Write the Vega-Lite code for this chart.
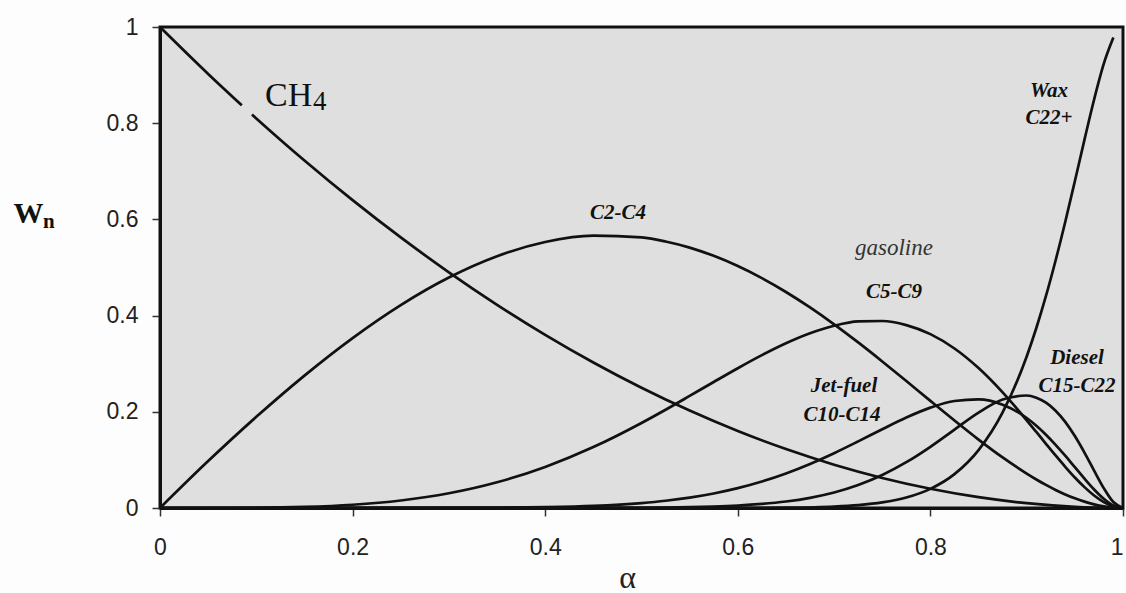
{
  "$schema": "https://vega.github.io/schema/vega-lite/v6.json",
  "width": 963,
  "height": 481,
  "autosize": "none",
  "padding": {"left": 160, "top": 27, "right": 3, "bottom": 85},
  "background": "#fdfdfd",
  "config": {
    "view": {"fill": "#dfdfdf", "stroke": "#111111", "strokeWidth": 3}
  },
  "datasets": {
    "curves": [
      {"series": "CH4", "part": 1, "alpha": 0, "w": 1},
      {"series": "CH4", "part": 1, "alpha": 0.05, "w": 0.9025},
      {"series": "CH4", "part": 1, "alpha": 0.085, "w": 0.8372},
      {"series": "CH4", "part": 2, "alpha": 0.0955, "w": 0.8181},
      {"series": "CH4", "part": 2, "alpha": 0.1, "w": 0.81},
      {"series": "CH4", "part": 2, "alpha": 0.15, "w": 0.7225},
      {"series": "CH4", "part": 2, "alpha": 0.2, "w": 0.64},
      {"series": "CH4", "part": 2, "alpha": 0.25, "w": 0.5625},
      {"series": "CH4", "part": 2, "alpha": 0.3, "w": 0.49},
      {"series": "CH4", "part": 2, "alpha": 0.35, "w": 0.4225},
      {"series": "CH4", "part": 2, "alpha": 0.4, "w": 0.36},
      {"series": "CH4", "part": 2, "alpha": 0.45, "w": 0.3025},
      {"series": "CH4", "part": 2, "alpha": 0.5, "w": 0.25},
      {"series": "CH4", "part": 2, "alpha": 0.55, "w": 0.2025},
      {"series": "CH4", "part": 2, "alpha": 0.6, "w": 0.16},
      {"series": "CH4", "part": 2, "alpha": 0.65, "w": 0.1225},
      {"series": "CH4", "part": 2, "alpha": 0.7, "w": 0.09},
      {"series": "CH4", "part": 2, "alpha": 0.75, "w": 0.0625},
      {"series": "CH4", "part": 2, "alpha": 0.8, "w": 0.04},
      {"series": "CH4", "part": 2, "alpha": 0.85, "w": 0.0225},
      {"series": "CH4", "part": 2, "alpha": 0.9, "w": 0.01},
      {"series": "CH4", "part": 2, "alpha": 0.95, "w": 0.0025},
      {"series": "CH4", "part": 2, "alpha": 1, "w": 0},

      {"series": "C2-C4", "part": 1, "alpha": 0, "w": 0},
      {"series": "C2-C4", "part": 1, "alpha": 0.05, "w": 0.0975},
      {"series": "C2-C4", "part": 1, "alpha": 0.1, "w": 0.1895},
      {"series": "C2-C4", "part": 1, "alpha": 0.15, "w": 0.2753},
      {"series": "C2-C4", "part": 1, "alpha": 0.2, "w": 0.3533},
      {"series": "C2-C4", "part": 1, "alpha": 0.25, "w": 0.4219},
      {"series": "C2-C4", "part": 1, "alpha": 0.3, "w": 0.4792},
      {"series": "C2-C4", "part": 1, "alpha": 0.35, "w": 0.5235},
      {"series": "C2-C4", "part": 1, "alpha": 0.4, "w": 0.553},
      {"series": "C2-C4", "part": 1, "alpha": 0.45, "w": 0.5663},
      {"series": "C2-C4", "part": 1, "alpha": 0.5, "w": 0.5625},
      {"series": "C2-C4", "part": 1, "alpha": 0.525, "w": 0.5541},
      {"series": "C2-C4", "part": 1, "alpha": 0.55, "w": 0.5413},
      {"series": "C2-C4", "part": 1, "alpha": 0.575, "w": 0.5242},
      {"series": "C2-C4", "part": 1, "alpha": 0.6, "w": 0.503},
      {"series": "C2-C4", "part": 1, "alpha": 0.625, "w": 0.4779},
      {"series": "C2-C4", "part": 1, "alpha": 0.65, "w": 0.4491},
      {"series": "C2-C4", "part": 1, "alpha": 0.675, "w": 0.4169},
      {"series": "C2-C4", "part": 1, "alpha": 0.7, "w": 0.3818},
      {"series": "C2-C4", "part": 1, "alpha": 0.725, "w": 0.3442},
      {"series": "C2-C4", "part": 1, "alpha": 0.75, "w": 0.3047},
      {"series": "C2-C4", "part": 1, "alpha": 0.775, "w": 0.264},
      {"series": "C2-C4", "part": 1, "alpha": 0.8, "w": 0.2227},
      {"series": "C2-C4", "part": 1, "alpha": 0.825, "w": 0.1819},
      {"series": "C2-C4", "part": 1, "alpha": 0.85, "w": 0.1423},
      {"series": "C2-C4", "part": 1, "alpha": 0.875, "w": 0.1051},
      {"series": "C2-C4", "part": 1, "alpha": 0.9, "w": 0.0715},
      {"series": "C2-C4", "part": 1, "alpha": 0.91, "w": 0.0593},
      {"series": "C2-C4", "part": 1, "alpha": 0.92, "w": 0.048},
      {"series": "C2-C4", "part": 1, "alpha": 0.93, "w": 0.0376},
      {"series": "C2-C4", "part": 1, "alpha": 0.94, "w": 0.0283},
      {"series": "C2-C4", "part": 1, "alpha": 0.95, "w": 0.0201},
      {"series": "C2-C4", "part": 1, "alpha": 0.96, "w": 0.0132},
      {"series": "C2-C4", "part": 1, "alpha": 0.97, "w": 0.0076},
      {"series": "C2-C4", "part": 1, "alpha": 0.98, "w": 0.0034},
      {"series": "C2-C4", "part": 1, "alpha": 0.99, "w": 0.0009},
      {"series": "C2-C4", "part": 1, "alpha": 1, "w": 0},

      {"series": "C5-C9", "part": 1, "alpha": 0, "w": 0},
      {"series": "C5-C9", "part": 1, "alpha": 0.1, "w": 0.0005},
      {"series": "C5-C9", "part": 1, "alpha": 0.15, "w": 0.0022},
      {"series": "C5-C9", "part": 1, "alpha": 0.2, "w": 0.0067},
      {"series": "C5-C9", "part": 1, "alpha": 0.25, "w": 0.0156},
      {"series": "C5-C9", "part": 1, "alpha": 0.3, "w": 0.0306},
      {"series": "C5-C9", "part": 1, "alpha": 0.35, "w": 0.0535},
      {"series": "C5-C9", "part": 1, "alpha": 0.4, "w": 0.0854},
      {"series": "C5-C9", "part": 1, "alpha": 0.45, "w": 0.1267},
      {"series": "C5-C9", "part": 1, "alpha": 0.5, "w": 0.1768},
      {"series": "C5-C9", "part": 1, "alpha": 0.525, "w": 0.2043},
      {"series": "C5-C9", "part": 1, "alpha": 0.55, "w": 0.233},
      {"series": "C5-C9", "part": 1, "alpha": 0.575, "w": 0.262},
      {"series": "C5-C9", "part": 1, "alpha": 0.6, "w": 0.2906},
      {"series": "C5-C9", "part": 1, "alpha": 0.625, "w": 0.3178},
      {"series": "C5-C9", "part": 1, "alpha": 0.65, "w": 0.3425},
      {"series": "C5-C9", "part": 1, "alpha": 0.675, "w": 0.3633},
      {"series": "C5-C9", "part": 1, "alpha": 0.7, "w": 0.3789},
      {"series": "C5-C9", "part": 1, "alpha": 0.725, "w": 0.3879},
      {"series": "C5-C9", "part": 1, "alpha": 0.75, "w": 0.3888},
      {"series": "C5-C9", "part": 1, "alpha": 0.775, "w": 0.3803},
      {"series": "C5-C9", "part": 1, "alpha": 0.8, "w": 0.3615},
      {"series": "C5-C9", "part": 1, "alpha": 0.825, "w": 0.3316},
      {"series": "C5-C9", "part": 1, "alpha": 0.85, "w": 0.2909},
      {"series": "C5-C9", "part": 1, "alpha": 0.875, "w": 0.2404},
      {"series": "C5-C9", "part": 1, "alpha": 0.9, "w": 0.1824},
      {"series": "C5-C9", "part": 1, "alpha": 0.91, "w": 0.1581},
      {"series": "C5-C9", "part": 1, "alpha": 0.92, "w": 0.1335},
      {"series": "C5-C9", "part": 1, "alpha": 0.93, "w": 0.1092},
      {"series": "C5-C9", "part": 1, "alpha": 0.94, "w": 0.0857},
      {"series": "C5-C9", "part": 1, "alpha": 0.95, "w": 0.0635},
      {"series": "C5-C9", "part": 1, "alpha": 0.96, "w": 0.0434},
      {"series": "C5-C9", "part": 1, "alpha": 0.97, "w": 0.026},
      {"series": "C5-C9", "part": 1, "alpha": 0.98, "w": 0.0123},
      {"series": "C5-C9", "part": 1, "alpha": 0.99, "w": 0.0033},
      {"series": "C5-C9", "part": 1, "alpha": 1, "w": 0},

      {"series": "C10-C14", "part": 1, "alpha": 0, "w": 0},
      {"series": "C10-C14", "part": 1, "alpha": 0.3, "w": 0.0001},
      {"series": "C10-C14", "part": 1, "alpha": 0.35, "w": 0.0005},
      {"series": "C10-C14", "part": 1, "alpha": 0.4, "w": 0.0017},
      {"series": "C10-C14", "part": 1, "alpha": 0.45, "w": 0.0044},
      {"series": "C10-C14", "part": 1, "alpha": 0.5, "w": 0.0103},
      {"series": "C10-C14", "part": 1, "alpha": 0.525, "w": 0.0151},
      {"series": "C10-C14", "part": 1, "alpha": 0.55, "w": 0.0216},
      {"series": "C10-C14", "part": 1, "alpha": 0.575, "w": 0.0302},
      {"series": "C10-C14", "part": 1, "alpha": 0.6, "w": 0.0412},
      {"series": "C10-C14", "part": 1, "alpha": 0.625, "w": 0.055},
      {"series": "C10-C14", "part": 1, "alpha": 0.65, "w": 0.0718},
      {"series": "C10-C14", "part": 1, "alpha": 0.675, "w": 0.0916},
      {"series": "C10-C14", "part": 1, "alpha": 0.7, "w": 0.114},
      {"series": "C10-C14", "part": 1, "alpha": 0.725, "w": 0.1385},
      {"series": "C10-C14", "part": 1, "alpha": 0.75, "w": 0.1638},
      {"series": "C10-C14", "part": 1, "alpha": 0.775, "w": 0.1881},
      {"series": "C10-C14", "part": 1, "alpha": 0.8, "w": 0.2087},
      {"series": "C10-C14", "part": 1, "alpha": 0.825, "w": 0.2225},
      {"series": "C10-C14", "part": 1, "alpha": 0.85, "w": 0.2257},
      {"series": "C10-C14", "part": 1, "alpha": 0.875, "w": 0.2148},
      {"series": "C10-C14", "part": 1, "alpha": 0.9, "w": 0.1871},
      {"series": "C10-C14", "part": 1, "alpha": 0.91, "w": 0.171},
      {"series": "C10-C14", "part": 1, "alpha": 0.92, "w": 0.1524},
      {"series": "C10-C14", "part": 1, "alpha": 0.93, "w": 0.1314},
      {"series": "C10-C14", "part": 1, "alpha": 0.94, "w": 0.1087},
      {"series": "C10-C14", "part": 1, "alpha": 0.95, "w": 0.0848},
      {"series": "C10-C14", "part": 1, "alpha": 0.96, "w": 0.061},
      {"series": "C10-C14", "part": 1, "alpha": 0.97, "w": 0.0385},
      {"series": "C10-C14", "part": 1, "alpha": 0.98, "w": 0.0192},
      {"series": "C10-C14", "part": 1, "alpha": 0.99, "w": 0.0054},
      {"series": "C10-C14", "part": 1, "alpha": 1, "w": 0},

      {"series": "C15-C22", "part": 1, "alpha": 0, "w": 0},
      {"series": "C15-C22", "part": 1, "alpha": 0.45, "w": 0.0001},
      {"series": "C15-C22", "part": 1, "alpha": 0.5, "w": 0.0005},
      {"series": "C15-C22", "part": 1, "alpha": 0.525, "w": 0.0009},
      {"series": "C15-C22", "part": 1, "alpha": 0.55, "w": 0.0017},
      {"series": "C15-C22", "part": 1, "alpha": 0.575, "w": 0.0029},
      {"series": "C15-C22", "part": 1, "alpha": 0.6, "w": 0.005},
      {"series": "C15-C22", "part": 1, "alpha": 0.625, "w": 0.0084},
      {"series": "C15-C22", "part": 1, "alpha": 0.65, "w": 0.0135},
      {"series": "C15-C22", "part": 1, "alpha": 0.675, "w": 0.0212},
      {"series": "C15-C22", "part": 1, "alpha": 0.7, "w": 0.0323},
      {"series": "C15-C22", "part": 1, "alpha": 0.725, "w": 0.0478},
      {"series": "C15-C22", "part": 1, "alpha": 0.75, "w": 0.0686},
      {"series": "C15-C22", "part": 1, "alpha": 0.775, "w": 0.0952},
      {"series": "C15-C22", "part": 1, "alpha": 0.8, "w": 0.1273},
      {"series": "C15-C22", "part": 1, "alpha": 0.825, "w": 0.163},
      {"series": "C15-C22", "part": 1, "alpha": 0.85, "w": 0.1982},
      {"series": "C15-C22", "part": 1, "alpha": 0.875, "w": 0.2254},
      {"series": "C15-C22", "part": 1, "alpha": 0.9, "w": 0.2339},
      {"series": "C15-C22", "part": 1, "alpha": 0.91, "w": 0.2293},
      {"series": "C15-C22", "part": 1, "alpha": 0.92, "w": 0.2189},
      {"series": "C15-C22", "part": 1, "alpha": 0.93, "w": 0.2023},
      {"series": "C15-C22", "part": 1, "alpha": 0.94, "w": 0.1791},
      {"series": "C15-C22", "part": 1, "alpha": 0.95, "w": 0.1496},
      {"series": "C15-C22", "part": 1, "alpha": 0.96, "w": 0.1151},
      {"series": "C15-C22", "part": 1, "alpha": 0.97, "w": 0.0777},
      {"series": "C15-C22", "part": 1, "alpha": 0.98, "w": 0.0414},
      {"series": "C15-C22", "part": 1, "alpha": 0.99, "w": 0.0124},
      {"series": "C15-C22", "part": 1, "alpha": 1, "w": 0},

      {"series": "C22+", "part": 1, "alpha": 0, "w": 0},
      {"series": "C22+", "part": 1, "alpha": 0.6, "w": 0.0001},
      {"series": "C22+", "part": 1, "alpha": 0.65, "w": 0.0007},
      {"series": "C22+", "part": 1, "alpha": 0.7, "w": 0.003},
      {"series": "C22+", "part": 1, "alpha": 0.725, "w": 0.006},
      {"series": "C22+", "part": 1, "alpha": 0.75, "w": 0.0116},
      {"series": "C22+", "part": 1, "alpha": 0.775, "w": 0.0218},
      {"series": "C22+", "part": 1, "alpha": 0.8, "w": 0.0398},
      {"series": "C22+", "part": 1, "alpha": 0.825, "w": 0.0704},
      {"series": "C22+", "part": 1, "alpha": 0.85, "w": 0.1204},
      {"series": "C22+", "part": 1, "alpha": 0.875, "w": 0.1987},
      {"series": "C22+", "part": 1, "alpha": 0.9, "w": 0.3151},
      {"series": "C22+", "part": 1, "alpha": 0.91, "w": 0.3742},
      {"series": "C22+", "part": 1, "alpha": 0.92, "w": 0.4408},
      {"series": "C22+", "part": 1, "alpha": 0.93, "w": 0.5146},
      {"series": "C22+", "part": 1, "alpha": 0.94, "w": 0.5947},
      {"series": "C22+", "part": 1, "alpha": 0.95, "w": 0.6794},
      {"series": "C22+", "part": 1, "alpha": 0.96, "w": 0.7658},
      {"series": "C22+", "part": 1, "alpha": 0.97, "w": 0.8493},
      {"series": "C22+", "part": 1, "alpha": 0.98, "w": 0.9233},
      {"series": "C22+", "part": 1, "alpha": 0.99, "w": 0.978}
    ],
    "labels": [
      {"label": "CH", "kind": "big", "alpha": 0.109, "w": 0.8358},
      {"label": "4", "kind": "sub", "alpha": 0.1589, "w": 0.8274},
      {"label": "n", "kind": "wsub", "alpha": -0.1215, "w": 0.5821},
      {"label": "C2-C4", "kind": "bi", "alpha": 0.4756, "w": 0.6008},
      {"label": "gasoline", "kind": "it", "alpha": 0.7622, "w": 0.526},
      {"label": "C5-C9", "kind": "bi", "alpha": 0.7622, "w": 0.4366},
      {"label": "Jet-fuel", "kind": "bi", "alpha": 0.7103, "w": 0.2412},
      {"label": "C10-C14", "kind": "bi", "alpha": 0.7082, "w": 0.1809},
      {"label": "Diesel", "kind": "bi", "alpha": 0.9522, "w": 0.2994},
      {"label": "C15-C22", "kind": "bi", "alpha": 0.9522, "w": 0.2412},
      {"label": "Wax", "kind": "bi", "alpha": 0.9232, "w": 0.8545},
      {"label": "C22+", "kind": "bi", "alpha": 0.9232, "w": 0.7983}
    ]
  },
  "encoding": {
    "x": {
      "field": "alpha", "type": "quantitative",
      "scale": {"domain": [0, 1], "nice": false, "zero": false},
      "axis": {
        "title": "α",
        "values": [0, 0.2, 0.4, 0.6, 0.8, 1],
        "format": "~g",
        "grid": false,
        "domainColor": "#111111", "domainWidth": 3,
        "tickColor": "#333333", "tickWidth": 1.5, "tickSize": 8,
        "labelFont": "Liberation Sans", "labelFontSize": 23, "labelColor": "#222222",
        "labelPadding": 20, "labelFlush": false,
        "labelAlign": {"expr": "datum.value === 1 ? 'right' : 'center'"},
        "labelDx": {"expr": "datum.value === 1 ? 3 : 0"},
        "titleFont": "Liberation Serif", "titleFontSize": 32, "titleFontWeight": "normal",
        "titleColor": "#222222", "titleX": 467, "titleY": 79,
        "titleAlign": "center", "titleBaseline": "alphabetic"
      }
    },
    "y": {
      "field": "w", "type": "quantitative",
      "scale": {"domain": [0, 1], "nice": false},
      "axis": {
        "title": "W",
        "values": [0, 0.2, 0.4, 0.6, 0.8, 1],
        "format": "~g",
        "grid": false,
        "domainColor": "#111111", "domainWidth": 3,
        "tickColor": "#333333", "tickWidth": 1.5, "tickSize": 8,
        "labelFont": "Liberation Sans", "labelFontSize": 23, "labelColor": "#222222",
        "labelPadding": 14, "labelFlush": false,
        "titleFont": "Liberation Serif", "titleFontSize": 30, "titleFontWeight": "bold",
        "titleColor": "#111111", "titleAngle": 0, "titleX": -147, "titleY": 195,
        "titleAlign": "left", "titleBaseline": "alphabetic"
      }
    }
  },
  "layer": [
    {
      "data": {"name": "curves"},
      "mark": {"type": "line", "color": "#111111", "strokeWidth": 2.7, "interpolate": "monotone"},
      "encoding": {
        "detail": [{"field": "series"}, {"field": "part"}],
        "order": {"field": "alpha", "type": "quantitative"}
      }
    },
    {
      "data": {"name": "labels"},
      "transform": [{"filter": "datum.kind === 'big'"}],
      "mark": {"type": "text", "font": "Liberation Serif", "fontSize": 34, "align": "left", "baseline": "alphabetic", "color": "#111111"},
      "encoding": {"text": {"field": "label"}}
    },
    {
      "data": {"name": "labels"},
      "transform": [{"filter": "datum.kind === 'sub'"}],
      "mark": {"type": "text", "font": "Liberation Serif", "fontSize": 27, "align": "left", "baseline": "alphabetic", "color": "#111111"},
      "encoding": {"text": {"field": "label"}}
    },
    {
      "data": {"name": "labels"},
      "transform": [{"filter": "datum.kind === 'wsub'"}],
      "mark": {"type": "text", "font": "Liberation Serif", "fontSize": 21, "fontWeight": "bold", "align": "left", "baseline": "alphabetic", "color": "#111111"},
      "encoding": {"text": {"field": "label"}}
    },
    {
      "data": {"name": "labels"},
      "transform": [{"filter": "datum.kind === 'bi'"}],
      "mark": {"type": "text", "font": "Liberation Serif", "fontSize": 21, "fontWeight": "bold", "fontStyle": "italic", "align": "center", "baseline": "alphabetic", "color": "#111111"},
      "encoding": {"text": {"field": "label"}}
    },
    {
      "data": {"name": "labels"},
      "transform": [{"filter": "datum.kind === 'it'"}],
      "mark": {"type": "text", "font": "Liberation Serif", "fontSize": 23, "fontStyle": "italic", "align": "center", "baseline": "alphabetic", "color": "#333333"},
      "encoding": {"text": {"field": "label"}}
    }
  ]
}
